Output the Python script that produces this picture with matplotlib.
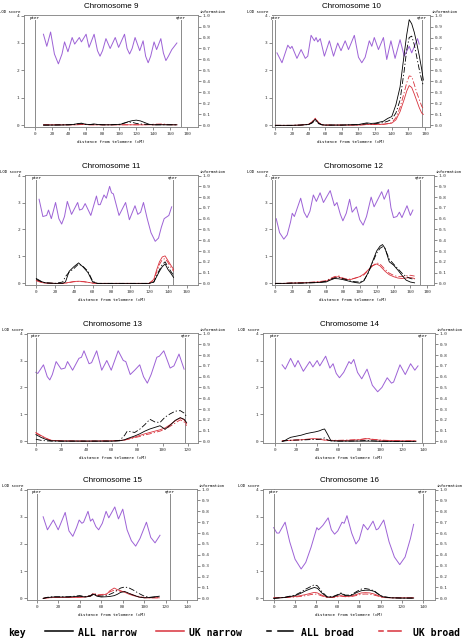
import matplotlib
matplotlib.use('Agg')
import matplotlib.pyplot as plt
from matplotlib.lines import Line2D

# ---- data (cM positions, information 0-1, LOD scores) ----
chr9_info_cm = [10, 14, 18.5, 23, 27.7, 32, 35, 39, 44, 47, 52.5, 55, 60.5, 64, 70, 74, 77, 80, 84, 89,
                95, 99, 106, 109, 112, 115, 118.5, 124, 128, 131, 134, 137, 141, 144, 149, 152, 155, 158, 162, 168]
chr9_info = [0.83, 0.72, 0.85, 0.65, 0.56, 0.65, 0.76, 0.67, 0.80, 0.74, 0.80, 0.76, 0.83, 0.71, 0.83, 0.68, 0.63, 0.68, 0.79, 0.70,
             0.80, 0.71, 0.83, 0.70, 0.65, 0.70, 0.80, 0.68, 0.77, 0.63, 0.57, 0.63, 0.76, 0.69, 0.79, 0.66, 0.59, 0.63, 0.69, 0.75]
chr9_lod_cm = [10, 20, 30, 40, 45, 50, 55, 60, 65, 70, 75, 80, 90, 100, 105, 110, 115, 120, 125, 130, 135, 140, 150, 160, 168]
chr9_all_narrow = [0.01, 0.01, 0.01, 0.02, 0.03, 0.06, 0.08, 0.04, 0.03, 0.05, 0.03, 0.02, 0.02, 0.03, 0.07, 0.13, 0.17, 0.19, 0.16, 0.10, 0.04, 0.02, 0.02, 0.02, 0.02]
chr9_all_broad = [0.01, 0.01, 0.02, 0.02, 0.03, 0.05, 0.06, 0.04, 0.03, 0.04, 0.03, 0.02, 0.02, 0.04, 0.08, 0.12, 0.11, 0.07, 0.05, 0.04, 0.03, 0.02, 0.02, 0.02, 0.02]
chr9_uk_narrow = [0.02, 0.02, 0.02, 0.02, 0.02, 0.02, 0.03, 0.03, 0.02, 0.02, 0.02, 0.02, 0.02, 0.02, 0.02, 0.02, 0.02, 0.02, 0.02, 0.02, 0.02, 0.02, 0.03, 0.02, 0.02]
chr9_uk_broad = [0.02, 0.02, 0.02, 0.02, 0.02, 0.03, 0.03, 0.03, 0.02, 0.02, 0.02, 0.02, 0.02, 0.02, 0.02, 0.02, 0.02, 0.02, 0.02, 0.02, 0.03, 0.04, 0.05, 0.03, 0.02]

chr10_info_cm = [2, 8, 15, 18, 20, 26, 31, 36, 39, 43, 47, 49, 51, 54, 59, 65, 70, 75, 79, 84,
                 88, 95, 100, 104, 108, 113, 116, 119, 124, 130, 134, 139, 144, 150, 155, 161, 164, 171, 173]
chr10_info = [0.66, 0.57, 0.73, 0.70, 0.72, 0.61, 0.69, 0.61, 0.63, 0.82, 0.77, 0.80, 0.76, 0.79, 0.63, 0.77, 0.63, 0.75, 0.68, 0.77,
              0.69, 0.82, 0.62, 0.57, 0.62, 0.77, 0.72, 0.80, 0.69, 0.80, 0.60, 0.77, 0.61, 0.78, 0.63, 0.72, 0.66, 0.79, 0.74]
chr10_lod_cm = [0, 10, 20, 30, 40, 44, 48, 52, 56, 60, 70, 80, 90, 100, 105, 110, 115, 120, 130, 135,
                140, 145, 150, 155, 158, 161, 164, 167, 170, 173, 176, 178]
chr10_all_narrow = [0.0, 0.0, 0.0, 0.01, 0.03, 0.10, 0.22, 0.08, 0.02, 0.01, 0.01, 0.01, 0.02, 0.03, 0.06, 0.09, 0.07, 0.08, 0.15, 0.25,
                    0.32, 0.75, 1.40, 2.60, 3.30, 3.85, 3.70, 3.40, 3.00, 2.55, 2.05, 1.65]
chr10_all_broad = [0.0, 0.0, 0.0, 0.01, 0.03, 0.08, 0.18, 0.06, 0.02, 0.01, 0.01, 0.01, 0.02, 0.02, 0.04, 0.06, 0.05, 0.06, 0.10, 0.15,
                   0.22, 0.45, 0.92, 2.00, 2.75, 3.20, 3.25, 2.95, 2.50, 2.05, 1.65, 1.45]
chr10_uk_narrow = [0.0, 0.0, 0.0, 0.01, 0.04, 0.12, 0.25, 0.10, 0.02, 0.01, 0.01, 0.01, 0.01, 0.01, 0.02, 0.03, 0.03, 0.03, 0.04, 0.06,
                   0.08, 0.20, 0.50, 0.95, 1.25, 1.45, 1.38, 1.15, 0.90, 0.65, 0.45, 0.40]
chr10_uk_broad = [0.0, 0.0, 0.0, 0.01, 0.04, 0.12, 0.26, 0.10, 0.02, 0.01, 0.01, 0.01, 0.01, 0.01, 0.02, 0.03, 0.03, 0.03, 0.04, 0.06,
                  0.10, 0.28, 0.65, 1.20, 1.55, 1.80, 1.78, 1.50, 1.20, 0.95, 0.70, 0.60]

chr11_info_cm = [3, 7, 11, 13, 16, 20.5, 24, 27, 30, 33, 37.5, 44, 46, 49, 52, 58, 64, 66, 68, 72,
                 74.5, 78, 80, 82, 88, 95, 99, 105, 108, 111, 114, 118, 122, 126.5, 130, 133, 136, 141, 144]
chr11_info = [0.78, 0.62, 0.63, 0.68, 0.60, 0.75, 0.60, 0.55, 0.62, 0.76, 0.64, 0.75, 0.68, 0.69, 0.74, 0.63, 0.81, 0.73, 0.73, 0.82,
              0.79, 0.90, 0.84, 0.83, 0.63, 0.75, 0.59, 0.72, 0.64, 0.66, 0.75, 0.60, 0.47, 0.39, 0.42, 0.52, 0.60, 0.63, 0.71]
chr11_lod_cm = [0, 3, 6, 10, 20, 28, 31, 35, 40, 45, 50, 55, 60, 65, 80, 100, 120, 125, 128, 131, 134, 137, 140, 143, 146]
chr11_all_narrow = [0.18, 0.12, 0.06, 0.02, 0.0, 0.0, 0.05, 0.45, 0.62, 0.76, 0.60, 0.40, 0.05, 0.0, 0.0, 0.0, 0.0, 0.05, 0.25, 0.45, 0.62, 0.72, 0.52, 0.38, 0.22]
chr11_all_broad = [0.15, 0.10, 0.05, 0.02, 0.0, 0.05, 0.25, 0.42, 0.55, 0.72, 0.62, 0.45, 0.08, 0.0, 0.0, 0.0, 0.0, 0.05, 0.28, 0.50, 0.70, 0.80, 0.62, 0.45, 0.30]
chr11_uk_narrow = [0.10, 0.06, 0.03, 0.01, 0.0, 0.0, 0.01, 0.04, 0.07, 0.08, 0.07, 0.04, 0.01, 0.0, 0.0, 0.0, 0.0, 0.15, 0.50, 0.80, 0.98, 1.02, 0.85, 0.68, 0.52]
chr11_uk_broad = [0.12, 0.08, 0.04, 0.01, 0.0, 0.0, 0.01, 0.03, 0.06, 0.07, 0.06, 0.04, 0.01, 0.0, 0.0, 0.0, 0.0, 0.12, 0.42, 0.70, 0.88, 0.92, 0.78, 0.60, 0.45]

chr12_info_cm = [1, 5, 10, 14, 18, 20, 22.5, 30, 34, 37.5, 41, 45, 48.6, 53, 57, 65, 70, 73, 77, 80,
                 84, 88, 91, 96, 100, 104, 108, 113.5, 117, 126, 129, 134, 137, 140, 144, 147, 150, 156, 160, 163]
chr12_info = [0.60, 0.47, 0.41, 0.45, 0.57, 0.65, 0.62, 0.79, 0.66, 0.61, 0.67, 0.82, 0.76, 0.84, 0.75, 0.86, 0.72, 0.75, 0.64, 0.58,
              0.65, 0.78, 0.66, 0.71, 0.59, 0.54, 0.62, 0.80, 0.71, 0.85, 0.78, 0.87, 0.70, 0.61, 0.62, 0.66, 0.61, 0.72, 0.63, 0.68]
chr12_lod_cm = [0, 10, 20, 30, 40, 50, 55, 60, 65, 70, 75, 80, 85, 90, 95, 100, 105, 110, 115, 120,
                124, 127, 130, 135, 140, 145, 150, 155, 160, 165]
chr12_all_narrow = [0.0, 0.0, 0.01, 0.01, 0.02, 0.03, 0.04, 0.05, 0.12, 0.18, 0.17, 0.14, 0.10, 0.06, 0.03, 0.01, 0.10, 0.40, 0.80, 1.20,
                    1.38, 1.44, 1.30, 0.80, 0.68, 0.50, 0.30, 0.12, 0.05, 0.02]
chr12_all_broad = [0.0, 0.0, 0.01, 0.01, 0.02, 0.03, 0.05, 0.08, 0.15, 0.20, 0.22, 0.18, 0.13, 0.08, 0.06, 0.05, 0.12, 0.38, 0.75, 1.12,
                   1.30, 1.36, 1.28, 0.90, 0.72, 0.55, 0.38, 0.25, 0.18, 0.15]
chr12_uk_narrow = [0.0, 0.0, 0.01, 0.02, 0.03, 0.05, 0.06, 0.08, 0.15, 0.22, 0.25, 0.16, 0.14, 0.15, 0.20, 0.25, 0.35, 0.50, 0.65, 0.72,
                   0.65, 0.55, 0.45, 0.32, 0.25, 0.20, 0.18, 0.20, 0.22, 0.18]
chr12_uk_broad = [0.0, 0.0, 0.02, 0.03, 0.04, 0.06, 0.08, 0.10, 0.18, 0.25, 0.28, 0.20, 0.16, 0.16, 0.20, 0.24, 0.32, 0.48, 0.65, 0.76,
                  0.72, 0.62, 0.52, 0.38, 0.30, 0.25, 0.25, 0.28, 0.30, 0.27]

chr13_info_cm = [0, 1.5, 6, 9, 11, 13, 16, 20, 23, 25, 29, 34, 36, 38, 42, 44, 48, 52, 56, 59.5,
                 65, 69, 71, 74.5, 78, 82, 85, 88, 91, 95.5, 97.5, 101, 106, 109, 113, 117]
chr13_info = [0.64, 0.63, 0.71, 0.60, 0.57, 0.62, 0.74, 0.67, 0.68, 0.74, 0.66, 0.77, 0.78, 0.84, 0.72, 0.73, 0.84, 0.66, 0.75, 0.66,
              0.84, 0.75, 0.74, 0.62, 0.66, 0.71, 0.60, 0.54, 0.62, 0.78, 0.79, 0.84, 0.68, 0.70, 0.81, 0.67]
chr13_lod_cm = [0, 4, 8, 12, 20, 40, 60, 66, 70, 72, 75, 78, 82, 86, 90, 94, 98, 102, 106, 110, 114, 117, 119]
chr13_all_narrow = [0.25, 0.15, 0.07, 0.02, 0.01, 0.01, 0.01, 0.02, 0.06, 0.10, 0.15, 0.20, 0.28, 0.38, 0.46, 0.52, 0.58, 0.45, 0.60, 0.78, 0.88, 0.82, 0.70]
chr13_all_broad = [0.08, 0.04, 0.02, 0.01, 0.01, 0.01, 0.01, 0.03, 0.22, 0.37, 0.36, 0.33, 0.45, 0.62, 0.82, 0.72, 0.70, 0.90, 1.02, 1.12, 1.14, 1.05, 0.92]
chr13_uk_narrow = [0.33, 0.22, 0.12, 0.04, 0.02, 0.01, 0.02, 0.03, 0.05, 0.08, 0.12, 0.16, 0.22, 0.28, 0.33, 0.38, 0.43, 0.50, 0.62, 0.76, 0.87, 0.80, 0.65]
chr13_uk_broad = [0.30, 0.20, 0.10, 0.04, 0.02, 0.01, 0.02, 0.03, 0.05, 0.07, 0.10, 0.14, 0.18, 0.24, 0.28, 0.33, 0.38, 0.45, 0.56, 0.68, 0.80, 0.72, 0.58]

chr14_info_cm = [7, 10, 15, 19, 22, 27, 33, 36, 40, 42.5, 48, 52, 55, 58, 61, 65, 70, 72, 74.5, 78,
                 82, 87, 92, 97, 101, 106, 110, 112, 118, 123, 128, 132, 135]
chr14_info = [0.71, 0.67, 0.77, 0.69, 0.75, 0.65, 0.74, 0.69, 0.75, 0.70, 0.79, 0.68, 0.72, 0.63, 0.59, 0.64, 0.74, 0.72, 0.76, 0.64,
              0.58, 0.67, 0.52, 0.46, 0.50, 0.59, 0.54, 0.55, 0.71, 0.62, 0.72, 0.66, 0.70]
chr14_lod_cm = [7, 10, 12, 15, 20, 25, 30, 35, 38, 42, 45, 47, 50, 53, 60, 70, 80, 85, 88, 92, 100, 110, 120, 133]
chr14_all_narrow = [0.0, 0.04, 0.09, 0.15, 0.19, 0.23, 0.29, 0.33, 0.35, 0.39, 0.44, 0.46, 0.25, 0.02, 0.01, 0.01, 0.01, 0.01, 0.01, 0.01, 0.0, 0.0, 0.0, 0.0]
chr14_all_broad = [0.0, 0.02, 0.03, 0.04, 0.05, 0.05, 0.06, 0.07, 0.07, 0.08, 0.10, 0.13, 0.05, 0.02, 0.01, 0.01, 0.02, 0.03, 0.03, 0.02, 0.01, 0.0, 0.0, 0.0]
chr14_uk_narrow = [0.02, 0.03, 0.03, 0.04, 0.05, 0.06, 0.08, 0.10, 0.10, 0.08, 0.06, 0.05, 0.04, 0.03, 0.03, 0.04, 0.06, 0.09, 0.10, 0.07, 0.04, 0.03, 0.02, 0.02]
chr14_uk_broad = [0.02, 0.03, 0.03, 0.04, 0.05, 0.06, 0.07, 0.08, 0.09, 0.08, 0.06, 0.05, 0.04, 0.04, 0.04, 0.05, 0.07, 0.10, 0.11, 0.08, 0.05, 0.03, 0.02, 0.02]

chr15_info_cm = [6, 10, 15.5, 20, 26.5, 30, 33.6, 37, 39.5, 42, 43.6, 47.7, 50, 52, 55, 57.6, 61, 64.5, 67, 72.6,
                 76, 80, 84, 88, 92, 96, 102, 106, 110, 114.6]
chr15_info = [0.75, 0.63, 0.72, 0.63, 0.79, 0.62, 0.57, 0.65, 0.72, 0.69, 0.70, 0.80, 0.71, 0.73, 0.66, 0.63, 0.69, 0.80, 0.74, 0.84,
              0.73, 0.82, 0.63, 0.53, 0.48, 0.55, 0.70, 0.56, 0.51, 0.58]
chr15_lod_cm = [6, 10, 15, 20, 30, 40, 45, 50, 53, 56, 60, 65, 68, 72, 75, 78, 82, 86, 90, 95, 100, 105, 110, 114]
chr15_all_narrow = [0.0, 0.03, 0.05, 0.05, 0.05, 0.08, 0.05, 0.08, 0.15, 0.08, 0.05, 0.06, 0.07, 0.10, 0.15, 0.22, 0.25, 0.18, 0.12, 0.05, 0.02, 0.03, 0.06, 0.08]
chr15_all_broad = [0.0, 0.04, 0.06, 0.06, 0.06, 0.10, 0.07, 0.10, 0.18, 0.10, 0.08, 0.10, 0.15, 0.22, 0.30, 0.38, 0.42, 0.38, 0.30, 0.18, 0.08, 0.04, 0.05, 0.06]
chr15_uk_narrow = [0.0, 0.02, 0.03, 0.03, 0.03, 0.04, 0.05, 0.08, 0.17, 0.10, 0.12, 0.15, 0.28, 0.38, 0.32, 0.28, 0.22, 0.15, 0.10, 0.05, 0.02, 0.02, 0.02, 0.02]
chr15_uk_broad = [0.0, 0.02, 0.03, 0.03, 0.04, 0.05, 0.06, 0.10, 0.20, 0.13, 0.14, 0.17, 0.24, 0.30, 0.28, 0.26, 0.25, 0.18, 0.12, 0.07, 0.03, 0.02, 0.02, 0.02]

chr16_info_cm = [0, 3, 5, 10.7, 15, 20, 25.7, 30, 35, 40.4, 42, 46, 51, 54, 57, 60, 64, 66, 68.6, 73,
                 77, 80, 84, 88, 93, 96, 98, 103, 108, 113, 118, 123, 128, 131]
chr16_info = [0.65, 0.60, 0.60, 0.70, 0.52, 0.36, 0.27, 0.33, 0.47, 0.65, 0.63, 0.67, 0.74, 0.63, 0.59, 0.62, 0.70, 0.69, 0.76, 0.60,
              0.50, 0.54, 0.68, 0.63, 0.71, 0.63, 0.64, 0.72, 0.52, 0.38, 0.31, 0.38, 0.55, 0.68]
chr16_lod_cm = [0, 10, 20, 25, 30, 35, 38, 41, 45, 50, 55, 60, 63, 67, 72, 78, 82, 86, 90, 94, 98, 102, 110, 120, 131]
chr16_all_narrow = [0.0, 0.03, 0.10, 0.18, 0.28, 0.36, 0.40, 0.37, 0.20, 0.05, 0.05, 0.12, 0.18, 0.10, 0.10, 0.22, 0.28, 0.30, 0.30, 0.26, 0.15, 0.06, 0.02, 0.01, 0.01]
chr16_all_broad = [0.0, 0.04, 0.12, 0.22, 0.34, 0.44, 0.50, 0.46, 0.25, 0.06, 0.06, 0.14, 0.20, 0.12, 0.12, 0.26, 0.34, 0.36, 0.33, 0.28, 0.16, 0.07, 0.02, 0.01, 0.01]
chr16_uk_narrow = [0.02, 0.03, 0.07, 0.10, 0.14, 0.19, 0.22, 0.20, 0.12, 0.04, 0.04, 0.08, 0.10, 0.07, 0.08, 0.15, 0.20, 0.21, 0.20, 0.16, 0.10, 0.04, 0.02, 0.02, 0.02]
chr16_uk_broad = [0.02, 0.03, 0.05, 0.07, 0.10, 0.14, 0.16, 0.15, 0.09, 0.03, 0.03, 0.06, 0.08, 0.06, 0.06, 0.11, 0.15, 0.16, 0.15, 0.12, 0.08, 0.03, 0.02, 0.02, 0.02]

chromosomes = ['9', '10', '11', '12', '13', '14', '15', '16']
chrom_length = [173, 176, 145, 171, 118, 139, 124, 140]   # qter position (cM)
xtick_max = [180, 180, 160, 180, 120, 140, 140, 140]

info_cm = [chr9_info_cm, chr10_info_cm, chr11_info_cm, chr12_info_cm, chr13_info_cm, chr14_info_cm, chr15_info_cm, chr16_info_cm]
info = [chr9_info, chr10_info, chr11_info, chr12_info, chr13_info, chr14_info, chr15_info, chr16_info]
lod_cm = [chr9_lod_cm, chr10_lod_cm, chr11_lod_cm, chr12_lod_cm, chr13_lod_cm, chr14_lod_cm, chr15_lod_cm, chr16_lod_cm]
all_narrow = [chr9_all_narrow, chr10_all_narrow, chr11_all_narrow, chr12_all_narrow, chr13_all_narrow, chr14_all_narrow, chr15_all_narrow, chr16_all_narrow]
all_broad = [chr9_all_broad, chr10_all_broad, chr11_all_broad, chr12_all_broad, chr13_all_broad, chr14_all_broad, chr15_all_broad, chr16_all_broad]
uk_narrow = [chr9_uk_narrow, chr10_uk_narrow, chr11_uk_narrow, chr12_uk_narrow, chr13_uk_narrow, chr14_uk_narrow, chr15_uk_narrow, chr16_uk_narrow]
uk_broad = [chr9_uk_broad, chr10_uk_broad, chr11_uk_broad, chr12_uk_broad, chr13_uk_broad, chr14_uk_broad, chr15_uk_broad, chr16_uk_broad]

# ---- layout (pixels: left, right, top, bottom) ----
W, H = 465, 638
boxes = [(24, 198, 15, 127), (272, 430, 15, 127),
         (25, 198, 175, 285), (272, 434, 175, 285),
         (27, 198, 333, 443), (263, 435, 333, 443),
         (27, 197, 489, 600), (263, 435, 489, 600)]
xlims = [(-13, 193), (-4, 186), (-12, 172), (-4, 188),
         (-7, 128), (-11, 151), (-9, 149), (-10, 151)]

purple = '#9d62d6'
red = '#d8323c'
mono = 'DejaVu Sans Mono'
broad_dash = (7, 2.5, 1.5, 2.5)

fig = plt.figure(figsize=(W / 100, H / 100), dpi=100)

for i, name in enumerate(chromosomes):
    l, r, t, b = boxes[i]
    ax = fig.add_axes([l / W, 1 - b / H, (r - l) / W, (b - t) / H])
    ax2 = ax.twinx()
    ax.set_zorder(ax2.get_zorder() + 1)
    ax.patch.set_visible(False)

    ax.set_xlim(*xlims[i])
    ax.set_ylim(-0.06, 4.02)
    ax2.set_ylim(-0.015, 1.005)

    # information content (right axis)
    ax2.plot(info_cm[i], info[i], color=purple, lw=0.7)

    # LOD curves
    ax.plot(lod_cm[i], uk_broad[i], color=red, lw=0.6, dashes=broad_dash)
    ax.plot(lod_cm[i], uk_narrow[i], color=red, lw=0.6)
    ax.plot(lod_cm[i], all_broad[i], color='black', lw=0.6, dashes=broad_dash)
    ax.plot(lod_cm[i], all_narrow[i], color='black', lw=0.6)

    # pter / qter markers
    for pos, lab in [(0, 'pter'), (chrom_length[i], 'qter')]:
        ax.axvline(pos, color='#777777', lw=0.6, zorder=0)
        ax.text(pos, 3.98, lab, ha='center', va='top', fontsize=3, family=mono,
                bbox=dict(facecolor='white', edgecolor='none', pad=0.2))

    ax.set_xticks(range(0, xtick_max[i] + 1, 20))
    ax.set_yticks([0, 1, 2, 3, 4])
    ax2.set_yticks([k / 10 for k in range(11)])
    ax2.set_yticklabels([f'{k / 10:.1f}' for k in range(11)])
    for a in (ax, ax2):
        a.tick_params(labelsize=3.2, length=2, width=0.4, pad=1.5, colors='#333333')
        for lbl in a.get_xticklabels() + a.get_yticklabels():
            lbl.set_family(mono)
        for s in a.spines.values():
            s.set_linewidth(0.5)
            s.set_color('#888888')

    ax.set_xlabel('distance from telomere (cM)', fontsize=3, family=mono, labelpad=3)
    ax.set_title('Chromosome ' + name, fontsize=5.8, pad=5, family='Liberation Sans')
    ax.text(-0.02, 1.01, 'LOD score', transform=ax.transAxes, ha='right', va='bottom',
            fontsize=2.9, family=mono)
    ax.text(1.01, 1.01, 'information', transform=ax.transAxes, ha='left', va='bottom',
            fontsize=2.9, family=mono)

# ---- key along the bottom ----
ky = 1 - 633 / H
kfont = dict(fontsize=7, family=mono, weight='bold', va='center')
fig.text(8 / W, ky, 'key', ha='left', **kfont)


def key_line(x0, x1, color):
    fig.add_artist(Line2D([x0 / W, x1 / W], [ky + 0.003, ky + 0.003], transform=fig.transFigure,
                          color=color, lw=1.1))


key_line(45, 73, 'black')
fig.text(78 / W, ky, 'ALL narrow', ha='left', **kfont)
key_line(156, 184, red)
fig.text(189 / W, ky, 'UK narrow', ha='left', **kfont)
key_line(267, 271, 'black')
key_line(278, 293, 'black')
fig.text(301 / W, ky, 'ALL broad', ha='left', **kfont)
key_line(379, 383, red)
key_line(388, 401, red)
fig.text(413 / W, ky, 'UK broad', ha='left', **kfont)

fig.savefig('out.png', dpi=100, facecolor='white')
